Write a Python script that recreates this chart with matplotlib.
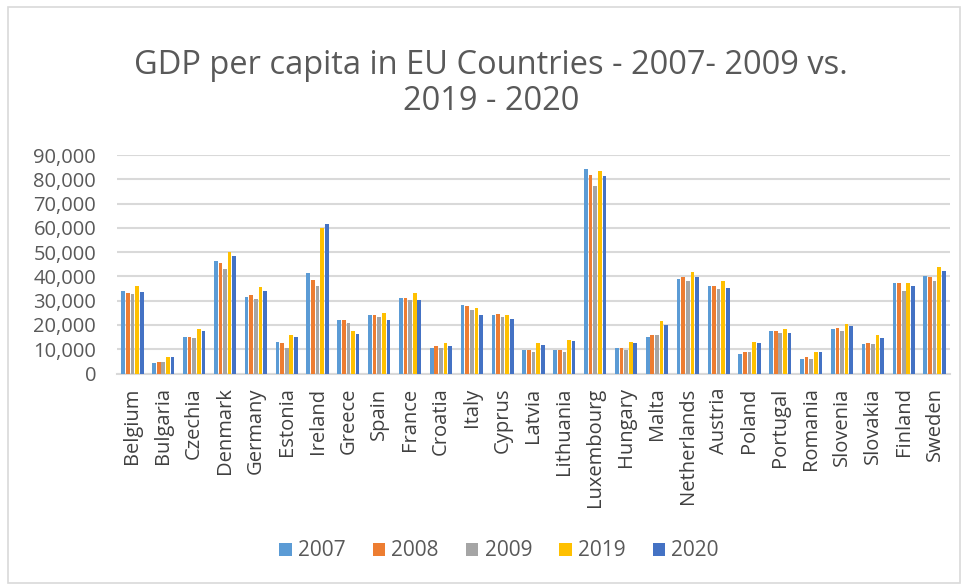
import numpy as np
import matplotlib
matplotlib.use("Agg")
from matplotlib import pyplot as plt
from matplotlib.patches import Rectangle

countries = ["Belgium", "Bulgaria", "Czechia", "Denmark", "Germany", "Estonia",
             "Ireland", "Greece", "Spain", "France", "Croatia", "Italy", "Cyprus",
             "Latvia", "Lithuania", "Luxembourg", "Hungary", "Malta", "Netherlands",
             "Austria", "Poland", "Portugal", "Romania", "Slovenia", "Slovakia",
             "Finland", "Sweden"]

years = ["2007", "2008", "2009", "2019", "2020"]

gdp_2007 = [33800, 4400, 15100, 46200, 31700, 12900, 41200, 22000, 24200, 31200,
            10700, 28400, 24200, 9800, 9800, 84300, 10300, 15100, 39100, 36000,
            8200, 17300, 6000, 18300, 12000, 37100, 40200]
gdp_2008 = [33200, 4900, 15100, 45600, 32300, 12500, 38600, 22000, 24200, 31200,
            11400, 27900, 24700, 9800, 9800, 81900, 10300, 15700, 39700, 36000,
            8800, 17300, 6600, 18800, 12500, 37100, 39700]
gdp_2009 = [32700, 4900, 14600, 42900, 30500, 10700, 36000, 20900, 23100, 30100,
            10300, 26200, 23100, 8700, 8700, 77100, 9800, 15700, 37900, 34900,
            8800, 16800, 6000, 17300, 12000, 33800, 38000]
gdp_2019 = [36000, 6600, 18400, 49900, 35600, 15700, 60000, 17700, 25100, 33200,
            12500, 26800, 24200, 12400, 14000, 83500, 12900, 21600, 41800, 38000,
            12900, 18300, 8700, 20500, 15700, 37100, 44000]
gdp_2020 = [33400, 6600, 17300, 48400, 33800, 15100, 61500, 16200, 22000, 30100,
            11400, 24200, 22500, 11800, 13500, 81300, 12400, 19900, 39700, 35400,
            12500, 16800, 8700, 19400, 14600, 36000, 42400]

series = [gdp_2007, gdp_2008, gdp_2009, gdp_2019, gdp_2020]
colors = ["#5B9BD5", "#ED7D31", "#A5A5A5", "#FFC000", "#4472C4"]

plt.rcParams['font.family'] = ['Open Sans', 'DejaVu Sans']

fig = plt.figure(figsize=(9.67, 5.87), dpi=100)
ax = fig.add_axes([117 / 967, 1 - 373.5 / 587, 833 / 967, 218.5 / 587])

x = np.arange(len(countries))
slot = 0.15
for i, (vals, col, yr) in enumerate(zip(series, colors, years)):
    ax.bar(x + (i - 2) * slot, vals, width=0.12, color=col, label=yr, zorder=3)

ax.set_xlim(-0.5, len(countries) - 0.5)
ax.set_ylim(0, 90000)
ax.set_yticks(np.arange(0, 90001, 10000))
ax.set_yticklabels([f"{v:,}" for v in range(0, 90001, 10000)], fontsize=14.5, color="#595959")
ax.set_xticks(x)
ax.set_xticklabels(countries, rotation=90, fontsize=14.5, color="#404040")
ax.tick_params(axis="y", length=0, pad=15)
ax.tick_params(axis="x", length=0, pad=10)
ax.grid(axis="y", color="#D9D9D9", linewidth=1.5, zorder=0)
for s in ["top", "right", "left"]:
    ax.spines[s].set_visible(False)
ax.spines["bottom"].set_color("#D9D9D9")
ax.spines["bottom"].set_linewidth(1.5)

fig.text(0.508, 1 - 66 / 587, "GDP per capita in EU Countries - 2007- 2009 vs.",
         ha="center", va="center", fontsize=23.5, color="#595959")
fig.text(0.508, 1 - 101 / 587, "2019 - 2020",
         ha="center", va="center", fontsize=23.5, color="#595959")

fig.legend(loc="center", bbox_to_anchor=(0.516, 1 - 551 / 587), ncol=5, frameon=False,
           fontsize=15, handlelength=0.6, handleheight=0.6, handletextpad=0.3,
           columnspacing=1.3, labelcolor="#595959")

fig.patches.append(Rectangle((8 / 967, 4 / 587), 952 / 967, 576 / 587,
                             transform=fig.transFigure, fill=False,
                             edgecolor="#D9D9D9", linewidth=1.2))

fig.savefig("out.png", dpi=100)
